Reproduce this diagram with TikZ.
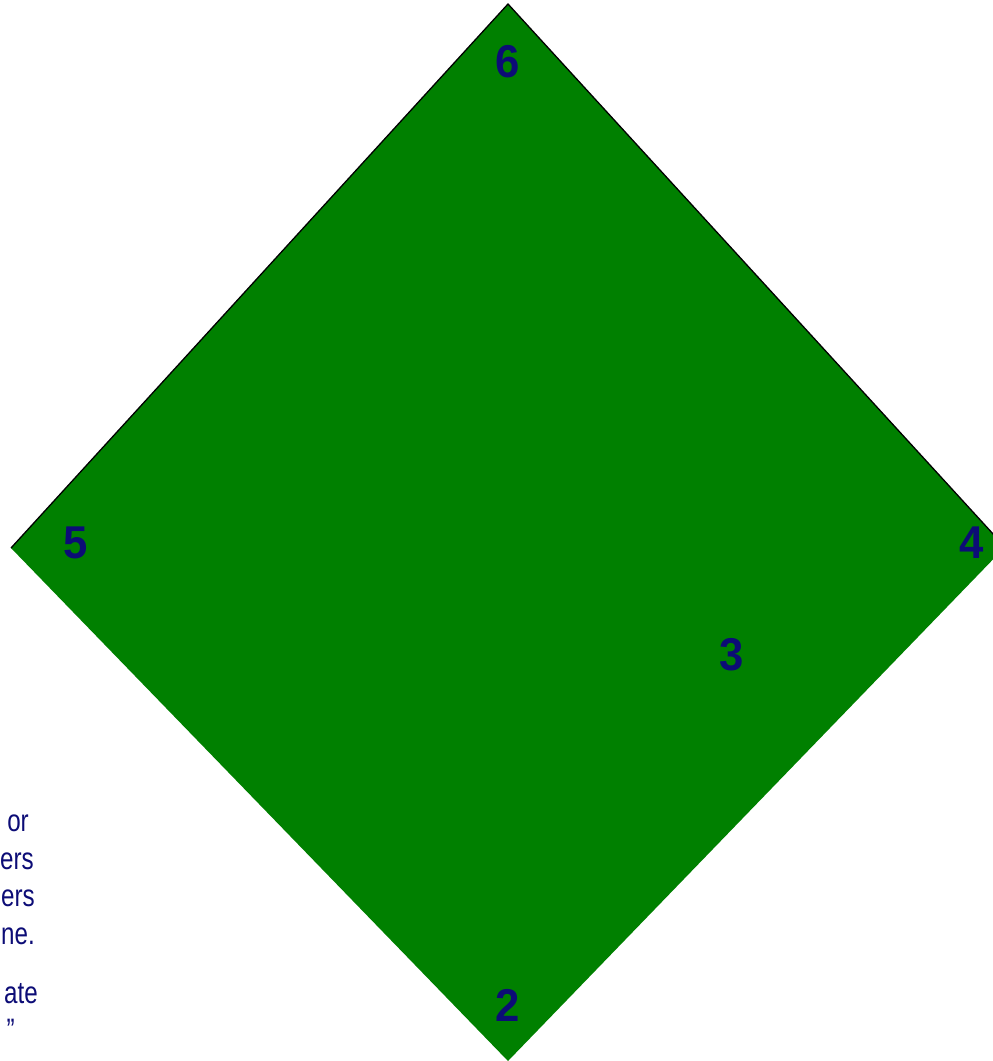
\documentclass[tikz,border=0pt]{standalone}
\usepackage{fontspec}
\setmainfont{Liberation Sans}
\newfontfamily\notefont[FakeStretch=0.78]{Liberation Sans}
\newfontfamily\basefont[FakeStretch=0.95]{Liberation Sans}
\usepackage{tikz}
\usetikzlibrary{positioning}
\definecolor{fieldgreen}{RGB}{0,128,0}
\definecolor{labelblue}{RGB}{12,12,118}

\begin{document}
\begin{tikzpicture}[
    x=1pt, y=-1pt,
    basenum/.style={text=labelblue, font=\basefont\bfseries\fontsize{46}{54}\selectfont, inner sep=0pt},
    noteline/.style={text=labelblue, font=\notefont\fontsize{31}{38}\selectfont, inner sep=0pt, anchor=base east}
]
\useasboundingbox (0,0) rectangle (993,1061);

% text behind the field, cut at the page edge
\node[noteline] (t1) at (29,831) {or};
\node[noteline] (t2) at (34,869) {ers};
\node[noteline] (t3) at (35,906) {ers};
\node[noteline] (t4) at (35,944) {ne.};
\node[noteline] (t5) at (38,1003) {ate};
\node[noteline] (t6) at (15,1040) {”};

% the field
\coordinate (top) at (508,4);
\coordinate (right) at (1005,547);
\coordinate (bottom) at (508,1061);
\coordinate (left) at (11,548);
\fill[fieldgreen] (top) -- (right) -- (bottom) -- (left) -- cycle;
\draw[line width=1.3pt, line join=miter] (left) -- (top) -- (right);

\node[basenum] (B6) at (508,62) {6};
\node[basenum] (B5) at (76,543) {5};
\node[basenum] (B4) at (972,543) {4};
\node[basenum] (B3) at (732,655) {3};
\node[basenum] (B2) at (508,1005) {2};
\end{tikzpicture}
\end{document}
